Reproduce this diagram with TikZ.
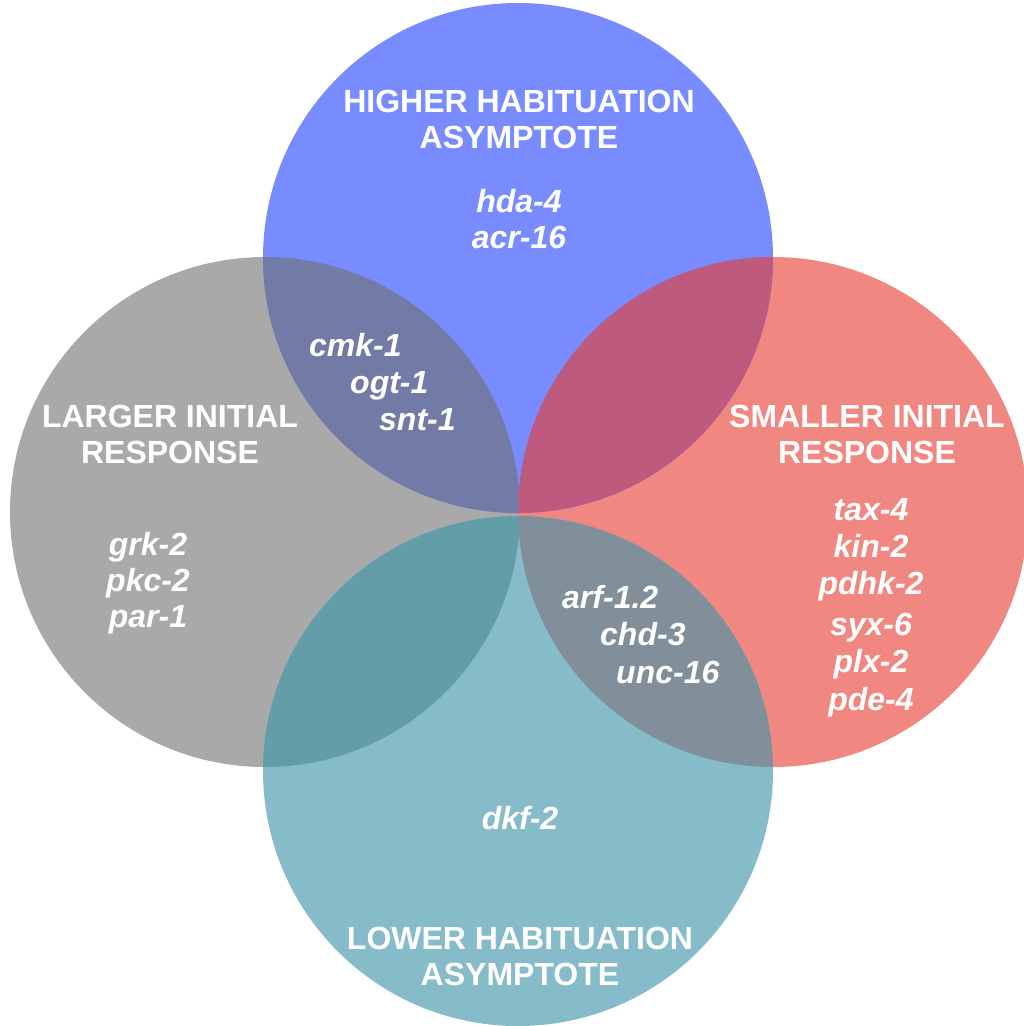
\documentclass[tikz,border=0pt]{standalone}
\usepackage{fontspec}
\setmainfont{Liberation Sans}
\definecolor{cblue}{RGB}{120,140,255}
\definecolor{cgray}{RGB}{169,169,169}
\definecolor{cred}{RGB}{240,135,128}
\definecolor{cteal}{RGB}{134,188,201}
\definecolor{cbg}{RGB}{114,122,166}
\definecolor{cbr}{RGB}{189,90,126}
\definecolor{cgt}{RGB}{98,157,168}
\definecolor{crt}{RGB}{128,143,153}
\begin{document}
\begin{tikzpicture}[x=1pt,y=-1pt,
  title/.style={text=white,font=\fontsize{32}{38}\selectfont\bfseries,anchor=base,inner sep=0pt},
  gene/.style={text=white,font=\fontsize{32}{38}\selectfont\bfseries\itshape,anchor=base,inner sep=0pt},
  genew/.style={gene,anchor=base west}]
\useasboundingbox (0,0) rectangle (1024,1026);
\def\R{255}
\coordinate (T) at (518,258);
\coordinate (L) at (265,512);
\coordinate (Rt) at (773,512);
\coordinate (B) at (518,771);
% circles
\fill[cgray] (L) circle (\R);
\fill[cred] (Rt) circle (\R);
\fill[cblue] (T) circle (\R);
\fill[cteal] (B) circle (\R);
% overlaps
\begin{scope}
\clip (T) circle (\R);
\fill[cbg] (L) circle (\R);
\fill[cbr] (Rt) circle (\R);
\end{scope}
\begin{scope}
\clip (B) circle (\R);
\fill[cgt] (L) circle (\R);
\fill[crt] (Rt) circle (\R);
\end{scope}
% top
\node[title] (t1) at (519,112) {HIGHER HABITUATION};
\node[title] (t2) at (519,148) {ASYMPTOTE};
\node[gene] (g1) at (519,212) {hda-4};
\node[gene] (g2) at (519,248) {acr-16};
% left
\node[title] (l1) at (170,427) {LARGER INITIAL};
\node[title] (l2) at (170,463) {RESPONSE};
\node[gene] (g3) at (148,555) {grk-2};
\node[gene] (g4) at (148,591) {pkc-2};
\node[gene] (g5) at (148,627) {par-1};
% right
\node[title] (r1) at (867,427) {SMALLER INITIAL};
\node[title] (r2) at (867,463) {RESPONSE};
\node[gene] (g6) at (871,520) {tax-4};
\node[gene] (g7) at (871,557) {kin-2};
\node[gene] (g8) at (871,594) {pdhk-2};
\node[gene] (g9) at (871,635) {syx-6};
\node[gene] (g10) at (871,672) {plx-2};
\node[gene] (g11) at (871,710) {pde-4};
% bottom
\node[gene] (g12) at (520,829) {dkf-2};
\node[title] (b1) at (520,949) {LOWER HABITUATION};
\node[title] (b2) at (520,985) {ASYMPTOTE};
% top-left overlap
\node[genew] (o1) at (309,356) {cmk-1};
\node[genew] (o2) at (350,393) {ogt-1};
\node[genew] (o3) at (379,430) {snt-1};
% bottom-right overlap
\node[genew] (o4) at (562,608) {arf-1.2};
\node[genew] (o5) at (600,645) {chd-3};
\node[genew] (o6) at (616,683) {unc-16};
\end{tikzpicture}
\end{document}
